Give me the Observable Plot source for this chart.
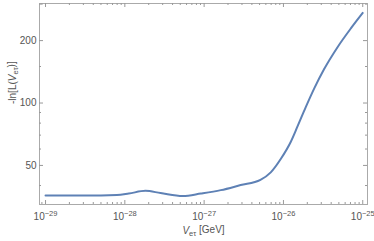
<!DOCTYPE html>
<html>
<head>
<meta charset="utf-8">
<script src="https://cdn.jsdelivr.net/npm/d3@7"></script>
<script src="https://cdn.jsdelivr.net/npm/@observablehq/plot@0.6"></script>
<style>
  html, body { margin: 0; padding: 0; background: #fff; }
  svg { display: block; }
</style>
</head>
<body>
<div id="chart"></div>
<script>
// Data
const logVet = [-29, -28.5, -28.1, -27.95, -27.74, -27.55, -27.27, -27.04, -26.79, -26.54, -26.29, -26.16, -26.03, -25.91, -25.82, -25.72, -25.61, -25.49, -25.32, -25.15, -25.0];
const negLnL = [35.8, 35.8, 36.0, 36.6, 37.7, 36.8, 35.6, 36.6, 38.0, 40.2, 42.6, 46.3, 54.0, 64.7, 77.5, 95.2, 117.9, 145.0, 185.4, 229, 272];

const xMajorExp = [-29, -28, -27, -26, -25];
const xTickLabels = ["\u221229", "\u221228", "\u221227", "\u221226", "\u221225"];
const yMajor = [50, 100, 200];
const yMinor = [40, 60, 70, 80, 90, 150, 300];
const yLabel = "-ln[L(V";
const xLabel = "V";

const W = 374, H = 241;
const mL = 39, mR = 7, mT = 3, mB = 37;
const innerW = W - mL - mR, innerH = H - mT - mB;

const data = logVet.map((e, i) => ({v: Math.pow(10, e), y: negLnL[i]}));
const xMajor = xMajorExp.map(e => Math.pow(10, e));
const xMinor = [];
for (let e = -30; e <= -26; e++) for (let m = 2; m <= 9; m++) xMinor.push(m * Math.pow(10, e));
const xDomain = [Math.pow(10, -29.076), Math.pow(10, -24.94)];
const xMinorIn = xMinor.filter(d => d >= xDomain[0] && d <= xDomain[1]);

const tickColor = "#999";
const chart = Plot.plot({
  width: W, height: H,
  marginLeft: mL, marginRight: mR, marginTop: mT, marginBottom: mB,
  style: {fontFamily: "Liberation Sans, Arial, sans-serif", fontSize: "10px", color: "#555", background: "#fff"},
  x: {type: "log", domain: xDomain},
  y: {type: "log", domain: [32.4, 302]},
  marks: [
    Plot.frame({stroke: "#aaa"}),
    // bottom/top ticks
    Plot.tickX(xMajor, {x: d => d, insetTop: innerH - 4, stroke: tickColor}),
    Plot.tickX(xMinorIn, {x: d => d, insetTop: innerH - 2, stroke: tickColor}),
    Plot.tickX(xMajor, {x: d => d, insetBottom: innerH - 4, stroke: tickColor}),
    Plot.tickX(xMinorIn, {x: d => d, insetBottom: innerH - 2, stroke: tickColor}),
    // left/right ticks
    Plot.tickY(yMajor, {y: d => d, insetRight: innerW - 4, stroke: tickColor}),
    Plot.tickY(yMinor, {y: d => d, insetRight: innerW - 2, stroke: tickColor}),
    Plot.tickY(yMajor, {y: d => d, insetLeft: innerW - 4, stroke: tickColor}),
    Plot.tickY(yMinor, {y: d => d, insetLeft: innerW - 2, stroke: tickColor}),
    Plot.axisX({ticks: xMajor, tickSize: 0, tickPadding: 8, tickFormat: d => xTickLabels[xMajor.indexOf(d)] ?? "", label: null, fill: "#555", fontSize: 10}),
    Plot.axisY({ticks: yMajor, tickSize: 0, tickPadding: 3, tickFormat: d => String(d), label: null, fill: "#555", fontSize: 10}),
    Plot.line(data, {x: "v", y: "y", stroke: "#5E81B5", strokeWidth: 2, curve: "monotone-x"}),
    Plot.text([yLabel], {frameAnchor: "left", dx: -27, rotate: -90, fill: "#555", fontSize: 10, className: "ylab"}),
    Plot.text([xLabel], {frameAnchor: "bottom", dy: 29, fill: "#555", fontSize: 10, className: "xlab"})
  ]
});
document.getElementById("chart").appendChild(chart);

const svg = d3.select(chart);
svg.selectAll('g[aria-label="x-axis tick label"] text').each(function () {
  const e = this.textContent;
  const t = d3.select(this);
  t.text("10");
  t.append("tspan").attr("dy", "-0.5em").attr("font-size", "7.5px").text(e);
});
svg.selectAll('g.ylab text').each(function () {
  const t = d3.select(this);
  t.text("-ln[L(");
  t.append("tspan").attr("font-style", "italic").text("V");
  t.append("tspan").attr("font-size", "7.5px").attr("dy", "0.3em").text("e\u03C4");
  t.append("tspan").attr("dy", "-0.3em").text(")]");
});
svg.selectAll('g.xlab text').each(function () {
  const t = d3.select(this);
  t.text("");
  t.append("tspan").attr("font-style", "italic").text("V");
  t.append("tspan").attr("font-size", "7.5px").attr("dy", "0.3em").text("e\u03C4");
  t.append("tspan").attr("dy", "-0.3em").text(" [GeV]");
});
</script>
</body>
</html>
